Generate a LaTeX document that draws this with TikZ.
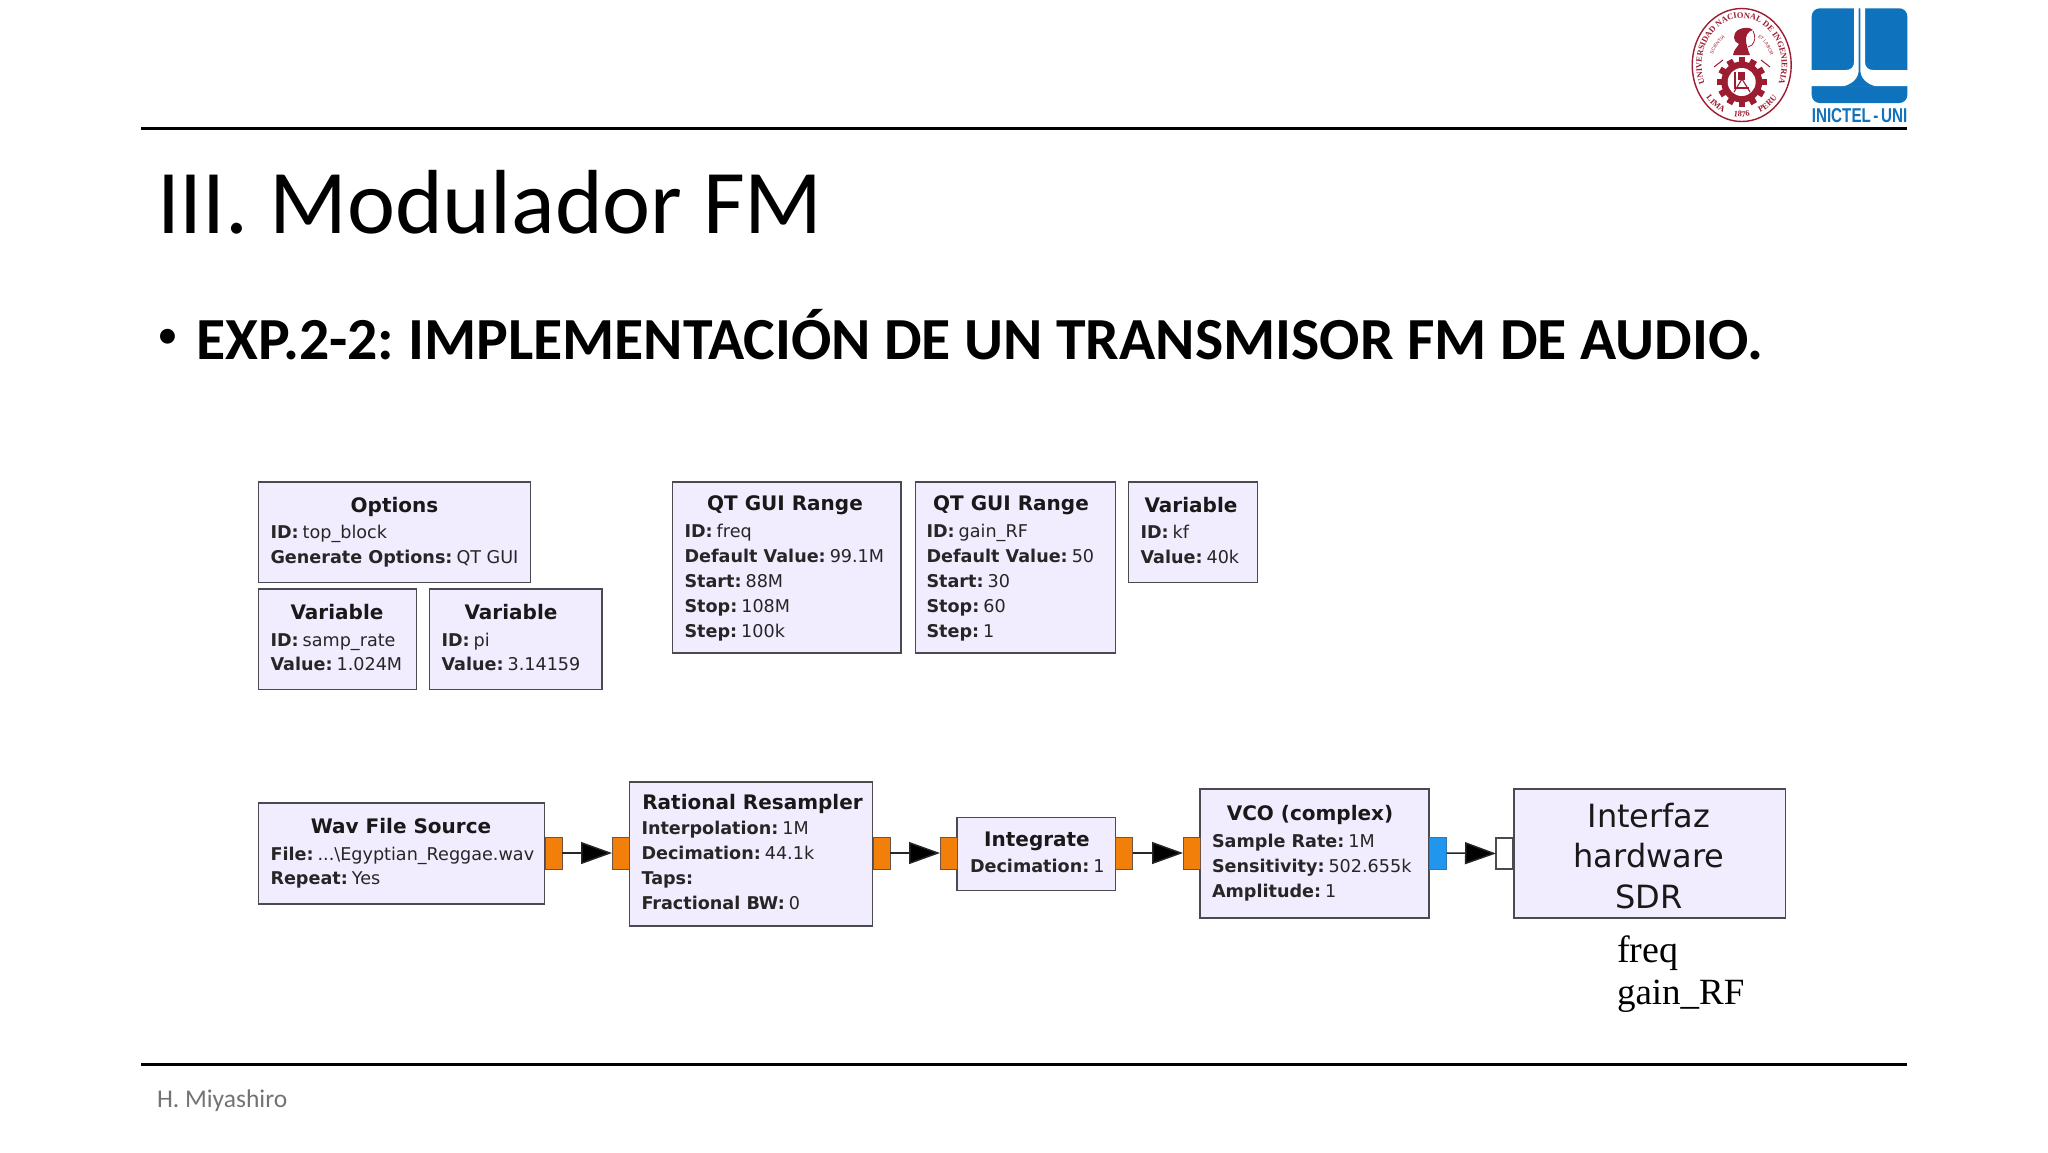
\documentclass[tikz,border=0pt]{standalone}
\usepackage{graphicx}
\usepackage{fontspec}
\setmainfont{Carlito}
\newfontfamily\grc{DejaVu Sans}
\newfontfamily\serifx{Liberation Serif}
\newfontfamily\helv{Liberation Sans}
\usetikzlibrary{arrows.meta,decorations.text,calc}
\definecolor{grcbg}{HTML}{F1ECFE}
\definecolor{grcbd}{HTML}{4A4A50}
\definecolor{portor}{HTML}{F17F0A}
\definecolor{portbl}{HTML}{2196EE}
\definecolor{crest}{HTML}{9C1C32}
\definecolor{inic}{HTML}{0F72BC}
\tikzset{
  x=1pt,y=-1pt,
  every node/.style={inner sep=0pt,outer sep=0pt},
  blk/.style={draw=grcbd,line width=1.5pt,fill=grcbg,anchor=north west},
  ttl/.style={anchor=base,yshift=-1pt,font=\grc\fontsize{20}{22}\selectfont\bfseries,text=black!90},
  lbl/.style={anchor=base west,yshift=-.7pt,font=\grc\fontsize{17.6}{20}\selectfont,text=black!85},
  big/.style={anchor=base,font=\grc\fontsize{32}{35}\selectfont,text=black!90},
  ptor/.style={draw=grcbd!80!portor,line width=1pt,fill=portor,anchor=north west,minimum width=17pt,minimum height=32pt},
  ptbl/.style={draw=grcbd!40!portbl,line width=1pt,fill=portbl,anchor=north west,minimum width=17pt,minimum height=32pt},
  ptwh/.style={draw=grcbd,line width=1.5pt,fill=white,anchor=north west,minimum width=17pt,minimum height=31pt},
  conn/.style={draw=black!85,line width=1.5pt,-{Triangle[length=31pt,width=22pt,fill=black]}},
  rule/.style={draw=black,line width=3pt},
  crestline/.style={draw=crest,line width=1.4pt},
}
\newcommand{\blkat}[5]{\node[blk,minimum width=#4pt-#2pt,minimum height=#5pt-#3pt] (#1) at (#2,#3) {};}
\newcommand{\kv}[2]{\textbf{#1}\hspace{4pt}#2}
\newcommand{\crestfont}{\serifx\bfseries\fontsize{8.4}{9}\selectfont\color{crest}}
\begin{document}
\begin{tikzpicture}
\useasboundingbox (0,0) rectangle (2048,1152);
\fill[white] (0,0) rectangle (2048,1152);

% rules
\coordinate (rt1) at (141,128); \coordinate (rt2) at (1907,128);
\coordinate (rb1) at (141,1064); \coordinate (rb2) at (1907,1064);
\draw[rule] (rt1) -- (rt2);
\draw[rule] (rb1) -- (rb2);

% headings
\node[anchor=base west,font=\fontsize{91}{94}\selectfont] (title) at (157,233) {III. Modulador FM};
\node[anchor=base west,font=\fontsize{42}{46}\selectfont] (bullet) at (157,348) {•};
\node[anchor=base west,font=\fontsize{59.7}{62}\selectfont\bfseries] (sub) at (196,359) {EXP.2-2:\hspace{-4pt} IMPLEMENTACIÓN DE UN TRANSMISOR FM DE AUDIO.};
\node[anchor=base west,font=\fontsize{25.5}{28}\selectfont,text=black!55] (foot) at (157,1107) {H. Miyashiro};

% crest
\draw[crestline,fill=white] (1741.7,65) ellipse [x radius=49.5,y radius=56.5];
\begin{scope}[transform canvas={shift={(1741.7,65)}}]
\path[decorate,decoration={text along path,text align=center,
  text={|\crestfont|UNIVERSIDAD NACIONAL DE INGENIERIA}}]
  plot[domain=218:-38,samples=90] ({40*cos(\x)},{-47*sin(\x)});
\path[decorate,decoration={text along path,text align=center,
  text={|\crestfont|LIMA}}]
  plot[domain=214:252,samples=20] ({46*cos(\x)},{-52*sin(\x)});
\path[decorate,decoration={text along path,text align=center,
  text={|\crestfont|1876}}]
  plot[domain=255:285,samples=20] ({46*cos(\x)},{-52*sin(\x)});
\path[decorate,decoration={text along path,text align=center,
  text={|\crestfont|PERU}}]
  plot[domain=288:326,samples=20] ({46*cos(\x)},{-52*sin(\x)});
\path[decorate,decoration={text along path,text align=center,
  text={|\helv\fontsize{4.6}{5}\selectfont\color{crest}|SCIENTIA}}]
  plot[domain=170:115,samples=20] ({30*cos(\x)},{-33*sin(\x)});
\path[decorate,decoration={text along path,text align=center,
  text={|\helv\fontsize{4.6}{5}\selectfont\color{crest}|ET LABOR}}]
  plot[domain=65:10,samples=20] ({30*cos(\x)},{-33*sin(\x)});
\end{scope}
% gear
\foreach \a in {0,30,...,330}{
  \fill[crest,shift={(1741.7,82)},rotate=\a] (-3.2,-25) rectangle (3.2,-18);
}
\fill[crest] (1741.7,82) circle (20.5);
\fill[white] (1741.7,82) circle (14);
\draw[crest,line width=1.1pt] (1735,72) -- (1735,88) -- (1749,88);
\fill[crest] (1738,72) rectangle (1745,80);
\draw[crest,line width=1.1pt] (1734,92) -- (1742,79) -- (1750,92);
\draw[crest,line width=1pt] (1723,60) -- (1714,67) (1761,60) -- (1770,67);
% bust
\fill[crest] (1733,55) .. controls (1734,49) and (1737,48) .. (1739,44)
  .. controls (1733,42) and (1732,34) .. (1738,30)
  .. controls (1743,27) and (1750,27) .. (1753,30)
  .. controls (1748,31) and (1745,36) .. (1746,42)
  .. controls (1747,45) and (1747,48) .. (1750,55) -- cycle;
\draw[crest,line width=.8pt] (1753,31) .. controls (1756,37) and (1755,41) .. (1752,45) -- (1748,47);

% INICTEL logo
\fill[inic,rounded corners=8pt] (1811.7,8.3) rectangle (1907.3,103);
\fill[white] (1854,8)
  -- (1854,62) .. controls (1854,67) and (1851,70) .. (1846,70)
  -- (1811,70) -- (1811,86) -- (1908,86) -- (1908,70) -- (1873,70)
  .. controls (1868,70) and (1865,67) .. (1865,62) -- (1865,8) -- cycle;
\fill[inic] (1858.7,8.3) -- (1860.3,8.3) -- (1860.3,70)
  .. controls (1860.3,78) and (1866,84) .. (1876,86.5)
  -- (1843,86.5) .. controls (1853,84) and (1858.7,78) .. (1858.7,70) -- cycle;
\node[anchor=base,font=\helv\fontsize{20}{21}\selectfont\bfseries,text=inic] (inictel) at (1859.5,122.5) {\scalebox{.76}[1]{INICTEL\,-\,UNI}};

% GRC variable blocks
\blkat{opt}{258.6}{482}{530.3}{582.5}
\node[ttl] (optT) at (394.5,511) {Options};
\node[lbl] (optA) at (270.5,538) {\kv{ID:}{top\_block}};
\node[lbl] (optB) at (270.5,563) {\kv{Generate Options:}{QT GUI}};

\blkat{vsr}{258.6}{589}{416.6}{689.6}
\node[ttl] (vsrT) at (337,618) {Variable};
\node[lbl] (vsrA) at (270.5,645.5) {\kv{ID:}{samp\_rate}};
\node[lbl] (vsrB) at (270.5,670) {\kv{Value:}{1.024M}};

\blkat{vpi}{429.7}{589}{602}{689.6}
\node[ttl] (vpiT) at (511,618) {Variable};
\node[lbl] (vpiA) at (441.5,645.5) {\kv{ID:}{pi}};
\node[lbl] (vpiB) at (441.5,670) {\kv{Value:}{3.14159}};

\blkat{qfr}{672.6}{482}{901}{653}
\node[ttl] (qfrT) at (785,509) {QT GUI Range};
\node[lbl] (qfrA) at (684.5,537) {\kv{ID:}{freq}};
\node[lbl] (qfrB) at (684.5,562) {\kv{Default Value:}{99.1M}};
\node[lbl] (qfrC) at (684.5,587) {\kv{Start:}{88M}};
\node[lbl] (qfrD) at (684.5,612) {\kv{Stop:}{108M}};
\node[lbl] (qfrE) at (684.5,636.5) {\kv{Step:}{100k}};

\blkat{qgn}{915.6}{482}{1115.4}{653}
\node[ttl] (qgnT) at (1011,509) {QT GUI Range};
\node[lbl] (qgnA) at (926.5,537) {\kv{ID:}{gain\_RF}};
\node[lbl] (qgnB) at (926.5,562) {\kv{Default Value:}{50}};
\node[lbl] (qgnC) at (926.5,587) {\kv{Start:}{30}};
\node[lbl] (qgnD) at (926.5,612) {\kv{Stop:}{60}};
\node[lbl] (qgnE) at (926.5,636.5) {\kv{Step:}{1}};

\blkat{vkf}{1128.4}{482}{1257.7}{582.5}
\node[ttl] (vkfT) at (1191,511) {Variable};
\node[lbl] (vkfA) at (1140.5,538) {\kv{ID:}{kf}};
\node[lbl] (vkfB) at (1140.5,563) {\kv{Value:}{40k}};

% flow blocks
\blkat{wav}{258.6}{803}{544.6}{904}
\node[ttl] (wavT) at (401,832) {Wav File Source};
\node[lbl] (wavA) at (270.5,859.5) {\kv{File:}{...\textbackslash Egyptian\_Reggae.wav}};
\node[lbl] (wavB) at (270.5,884) {\kv{Repeat:}{Yes}};

\blkat{rat}{629.5}{782}{872.5}{926}
\node[ttl] (ratT) at (752.5,808) {Rational Resampler};
\node[lbl] (ratA) at (641.5,834) {\kv{Interpolation:}{1M}};
\node[lbl] (ratB) at (641.5,859) {\kv{Decimation:}{44.1k}};
\node[lbl] (ratC) at (641.5,884) {\textbf{Taps:}};
\node[lbl] (ratD) at (641.5,909) {\kv{Fractional BW:}{0}};

\blkat{int}{957}{817.6}{1115.4}{890.7}
\node[ttl] (intT) at (1037,845) {Integrate};
\node[lbl] (intA) at (970,872) {\kv{Decimation:}{1}};

\blkat{vco}{1200}{789}{1429}{918}
\node[ttl] (vcoT) at (1310,819) {VCO (complex)};
\node[lbl] (vcoA) at (1212,847) {\kv{Sample Rate:}{1M}};
\node[lbl] (vcoB) at (1212,872) {\kv{Sensitivity:}{502.655k}};
\node[lbl] (vcoC) at (1212,897) {\kv{Amplitude:}{1}};

\blkat{sdr}{1514}{789}{1785.4}{918}
\node[big] (sdrA) at (1649,827) {Interfaz};
\node[big] (sdrB) at (1649,867) {hardware};
\node[big] (sdrC) at (1649,908) {SDR};

\node[anchor=base west,font=\serifx\fontsize{38}{40}\selectfont] (pf) at (1617,962) {freq};
\node[anchor=base west,font=\serifx\fontsize{37}{40}\selectfont] (pg) at (1617,1004) {gain\_RF};

% ports
\node[ptor] (p1o) at (545,837) {};
\node[ptor] (p2i) at (612,837) {};
\node[ptor] (p2o) at (873,837) {};
\node[ptor] (p3i) at (940,837) {};
\node[ptor] (p3o) at (1115.5,837) {};
\node[ptor] (p4i) at (1183,837) {};
\node[ptbl] (p4o) at (1429.5,837) {};
\node[ptwh] (p5i) at (1496,838) {};

% connectors
\draw[conn] (p1o.east) -- (p2i.west);
\draw[conn] (p2o.east) -- (p3i.west);
\draw[conn] (p3o.east) -- (p4i.west);
\draw[conn] (p4o.east) -- (p5i.west);
\end{tikzpicture}
\end{document}
